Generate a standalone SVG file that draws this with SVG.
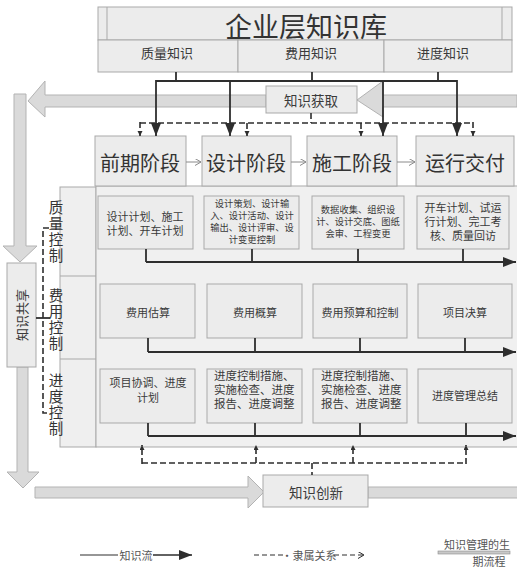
<svg xmlns="http://www.w3.org/2000/svg" width="517" height="570" viewBox="0 0 517 570">
<defs>
<style>
text{font-family:"Noto Sans CJK SC","Noto Sans",sans-serif;fill:#3a3a3a;text-anchor:middle;dominant-baseline:central}
.box{fill:#ececec;stroke:#a9a9a9;stroke-width:1}
.inner{fill:#eeeeee;stroke:#a9a9a9;stroke-width:1}
.big{fill:#dadada;stroke:#b3b3b3;stroke-width:1}
.flow{fill:none;stroke:#2e2e2e;stroke-width:1.8}
.dash{fill:none;stroke:#2e2e2e;stroke-width:1.6;stroke-dasharray:6,3}
.thin{fill:none;stroke:#8a8a8a;stroke-width:1}
.t11{font-size:11px}
.t10{font-size:9.3px}
.stage{font-size:20px;fill:#333}
.ctl{font-size:14.5px;fill:#333;writing-mode:vertical-rl;letter-spacing:1.5px;dominant-baseline:auto}
</style>
<marker id="ah" markerUnits="userSpaceOnUse" markerWidth="14" markerHeight="12" refX="13" refY="5" orient="auto"><path d="M0,0 L13,5 L0,10 Z" fill="#2e2e2e"/></marker>
<marker id="sa" markerUnits="userSpaceOnUse" markerWidth="6" markerHeight="6" refX="5" refY="2.5" orient="auto"><path d="M0,0 L5,2.5 L0,5 Z" fill="#2e2e2e"/></marker>
<marker id="ga" markerUnits="userSpaceOnUse" markerWidth="8" markerHeight="8" refX="6" refY="3.5" orient="auto"><path d="M0,0 L6,3.5 L0,7" fill="none" stroke="#8a8a8a" stroke-width="1"/></marker>
<marker id="oa" markerUnits="userSpaceOnUse" markerWidth="8" markerHeight="8" refX="6" refY="3.5" orient="auto"><path d="M0,0 L6,3.5 L0,7" fill="none" stroke="#2e2e2e" stroke-width="1"/></marker>
</defs>
<rect width="517" height="570" fill="#ffffff"/>

<g id="bigArrows">
<path class="big" d="M266,95 L45,95 L45,81 L28,101 L45,117 L45,107 L266,107 Z"/>
<path class="big" d="M517,95 L383,95 L383,81 L357,100 L383,117 L383,107 L517,107 Z"/>
<path class="big" d="M14,94 L26,94 L26,246 L37,246 L20,262 L3,246 L14,246 Z"/>
<path class="big" d="M17,367 L28,367 L28,472 L39,472 L23,488 L7,472 L17,472 Z"/>
<path class="big" d="M35,487 L248,487 L248,476 L264,492 L248,508 L248,498 L35,498 Z"/>
<rect class="big" x="368" y="487" width="160" height="11"/>
</g>

<g id="repository">
<rect class="box" x="98" y="7" width="414" height="33"/>
<line x1="107" y1="7" x2="107" y2="40" stroke="#a9a9a9"/>
<line x1="502" y1="7" x2="502" y2="40" stroke="#a9a9a9"/>
<text x="306" y="25" style="font-size:27px;fill:#333">企业层知识库</text>
</g>
<g id="quality-knowledge"><rect class="box" x="98" y="40" width="140" height="32"/><text x="167" y="52" style="font-size:13px">质量知识</text></g>
<g id="cost-knowledge"><rect class="box" x="238" y="40" width="146" height="32"/><text x="311" y="52" style="font-size:13px">费用知识</text></g>
<g id="schedule-knowledge"><rect class="box" x="384" y="40" width="128" height="32"/><text x="443" y="52" style="font-size:13px">进度知识</text></g>

<g id="acquire"><rect class="box" x="266" y="86" width="91" height="27"/><text x="311" y="100" style="font-size:13.5px">知识获取</text></g>
<g id="innovate"><rect class="box" x="263" y="475" width="105" height="32"/><text x="316" y="492" style="font-size:13.5px">知识创新</text></g>
<g id="share"><rect class="box" x="7" y="263" width="29" height="104"/><text x="21" y="315" transform="rotate(-90 21 315)" style="font-size:13px">知识共享</text></g>

<g id="mainArea">
<rect class="inner" x="60" y="187" width="36" height="260" style="fill:#efefef"/>
<line x1="60" y1="276" x2="96" y2="276" stroke="#a9a9a9"/>
<line x1="60" y1="359" x2="96" y2="359" stroke="#a9a9a9"/>
<rect class="inner" x="96" y="186" width="430" height="261" style="fill:#f0f0f0"/>
</g>

<g id="stage1"><rect class="box" x="95" y="136" width="91" height="50"/><text class="stage" x="140" y="162">前期阶段</text></g>
<g id="stage2"><rect class="box" x="202" y="136" width="89" height="50"/><text class="stage" x="246" y="162">设计阶段</text></g>
<g id="stage3"><rect class="box" x="307" y="136" width="90" height="50"/><text class="stage" x="352" y="162">施工阶段</text></g>
<g id="stage4"><rect class="box" x="416" y="136" width="98" height="50"/><text class="stage" x="465" y="162">运行交付</text></g>

<g id="ctl-quality"><text class="ctl" x="56" y="232">质量控制</text></g>
<g id="ctl-cost"><text class="ctl" x="56" y="320">费用控制</text></g>
<g id="ctl-schedule"><text class="ctl" x="56" y="405">进度控制</text></g>

<g id="q1"><rect class="box" x="98" y="196" width="95" height="53"/><text class="t11"><tspan x="145" y="216">设计计划、施工</tspan><tspan x="145" y="230">计划、开车计划</tspan></text></g>
<g id="q2"><rect class="box" x="204" y="196" width="95" height="53"/><text class="t10"><tspan x="252" y="203">设计策划、设计输</tspan><tspan x="252" y="215">入、设计活动、设计</tspan><tspan x="252" y="227">输出、设计评审、设</tspan><tspan x="252" y="239">计变更控制</tspan></text></g>
<g id="q3"><rect class="box" x="312" y="196" width="92" height="53"/><text class="t10"><tspan x="358" y="209">数据收集、组织设</tspan><tspan x="358" y="221">计、设计交底、图纸</tspan><tspan x="358" y="233">会审、工程变更</tspan></text></g>
<g id="q4"><rect class="box" x="417" y="196" width="92" height="53"/><text class="t11"><tspan x="463" y="207">开车计划、试运</tspan><tspan x="463" y="221">行计划、完工考</tspan><tspan x="463" y="235">核、质量回访</tspan></text></g>

<g id="c1"><rect class="box" x="100" y="284" width="95" height="54"/><text class="t11" x="148" y="312">费用估算</text></g>
<g id="c2"><rect class="box" x="207" y="284" width="95" height="54"/><text class="t11" x="255" y="312">费用概算</text></g>
<g id="c3"><rect class="box" x="313" y="284" width="94" height="54"/><text class="t11" x="360" y="312">费用预算和控制</text></g>
<g id="c4"><rect class="box" x="418" y="284" width="94" height="54"/><text class="t11" x="465" y="312">项目决算</text></g>

<g id="s1"><rect class="box" x="100" y="369" width="95" height="54"/><text class="t11"><tspan x="148" y="382">项目协调、进度</tspan><tspan x="148" y="397">计划</tspan></text></g>
<g id="s2"><rect class="box" x="207" y="369" width="95" height="54"/><text style="font-size:11.5px;text-anchor:start"><tspan x="214" y="375">进度控制措施、</tspan><tspan x="214" y="389">实施检查、进度</tspan><tspan x="214" y="403">报告、进度调整</tspan></text></g>
<g id="s3"><rect class="box" x="313" y="369" width="94" height="54"/><text style="font-size:11.5px;text-anchor:start"><tspan x="321" y="375">进度控制措施、</tspan><tspan x="321" y="389">实施检查、进度</tspan><tspan x="321" y="403">报告、进度调整</tspan></text></g>
<g id="s4"><rect class="box" x="418" y="369" width="94" height="54"/><text class="t11" x="465" y="395">进度管理总结</text></g>

<g id="connectors">
<path class="flow" d="M176,72 V81 M312,72 V81 M438,72 V81 M156,81 H457"/>
<line class="flow" x1="156" y1="80" x2="156" y2="136" marker-end="url(#ah)"/>
<line class="flow" x1="230" y1="81" x2="230" y2="136" marker-end="url(#ah)"/>
<line class="flow" x1="383" y1="81" x2="383" y2="136" marker-end="url(#ah)"/>
<line class="flow" x1="457" y1="80" x2="457" y2="136" marker-end="url(#ah)"/>
<path class="dash" d="M311,113 V123 M140,123 H473"/>
<line class="dash" x1="140" y1="122" x2="140" y2="136" marker-end="url(#sa)"/>
<line class="dash" x1="247" y1="123" x2="247" y2="136" marker-end="url(#sa)"/>
<line class="dash" x1="361" y1="123" x2="361" y2="136" marker-end="url(#sa)"/>
<line class="dash" x1="473" y1="122" x2="473" y2="136" marker-end="url(#sa)"/>
<line class="thin" x1="186" y1="162" x2="201" y2="162" marker-end="url(#ga)"/>
<line class="thin" x1="291" y1="162" x2="306" y2="162" marker-end="url(#ga)"/>
<line class="thin" x1="397" y1="162" x2="415" y2="162" marker-end="url(#ga)"/>
<path class="flow" d="M146,249 V262 M252,249 V262 M358,249 V262 M463,249 V262"/>
<line class="flow" x1="146" y1="262" x2="516" y2="262" marker-end="url(#ah)"/>
<path class="flow" d="M148,338 V352 M255,338 V352 M360,338 V352 M465,338 V352"/>
<line class="flow" x1="148" y1="352" x2="516" y2="352" marker-end="url(#ah)"/>
<path class="flow" d="M148,423 V436 M255,423 V436 M360,423 V436 M466,423 V436"/>
<line class="flow" x1="148" y1="436" x2="516" y2="436" marker-end="url(#ah)"/>
<path class="dash" d="M142,463 H466 M312,463 V475"/>
<line class="dash" x1="142" y1="464" x2="142" y2="445" marker-end="url(#sa)"/>
<line class="dash" x1="256" y1="463" x2="256" y2="445" marker-end="url(#sa)"/>
<line class="dash" x1="353" y1="463" x2="353" y2="445" marker-end="url(#sa)"/>
<line class="dash" x1="466" y1="464" x2="466" y2="445" marker-end="url(#sa)"/>
<path class="dash" d="M49,228 H43 V413 H50"/>
<line x1="36" y1="318" x2="50" y2="318" stroke="#2e2e2e" stroke-width="1.8"/>
</g>

<g id="legend">
<line x1="80" y1="555" x2="118" y2="555" stroke="#2e2e2e" stroke-width="1.2"/>
<text x="136" y="555" style="font-size:11px;fill:#555">知识流</text>
<line x1="153" y1="555" x2="192" y2="555" stroke="#2e2e2e" stroke-width="1.4" marker-end="url(#ah)"/>
<line x1="254" y1="555" x2="284" y2="555" stroke="#2e2e2e" stroke-width="1.2" stroke-dasharray="5,3"/>
<text x="309" y="555" style="font-size:11px;fill:#555">·隶属关系</text>
<line x1="334" y1="555" x2="364" y2="555" stroke="#2e2e2e" stroke-width="1.2" stroke-dasharray="5,3" marker-end="url(#oa)"/>
<text x="477" y="544" style="font-size:11px;fill:#555">知识管理的生</text>
<rect x="438" y="551" width="72" height="3" fill="#c8c8c8" stroke="#8a8a8a" stroke-width="0.6"/>
<text x="489" y="561" style="font-size:11px;fill:#555">期流程</text>
</g>
</svg>
